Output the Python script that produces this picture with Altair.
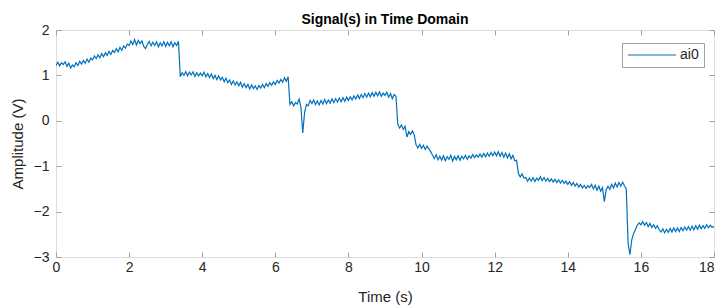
import altair as alt
import pandas as pd

# Sampled signal (V), one list per second, 0.05 s apart
sec00 = [1.22, 1.29, 1.21, 1.28, 1.24, 1.30, 1.20, 1.27, 1.16, 1.23, 1.19, 1.28, 1.22, 1.31, 1.25, 1.33, 1.27, 1.36, 1.29, 1.38]
sec01 = [1.34, 1.43, 1.37, 1.45, 1.39, 1.48, 1.41, 1.50, 1.44, 1.53, 1.46, 1.55, 1.50, 1.59, 1.52, 1.62, 1.55, 1.65, 1.60, 1.69]
sec02 = [1.66, 1.76, 1.68, 1.79, 1.67, 1.77, 1.70, 1.76, 1.64, 1.59, 1.68, 1.75, 1.65, 1.73, 1.66, 1.74, 1.63, 1.72, 1.65, 1.74]
sec03 = [1.64, 1.73, 1.65, 1.74, 1.63, 1.72, 1.66, 1.75, 0.97, 1.06, 1.00, 1.08, 0.99, 1.07, 1.01, 1.08, 0.98, 1.06, 0.99, 1.05]
sec04 = [0.99, 1.07, 0.97, 1.04, 0.95, 1.03, 0.93, 1.00, 0.91, 0.99, 0.90, 0.96, 0.86, 0.94, 0.84, 0.90, 0.80, 0.88, 0.79, 0.86]
sec05 = [0.77, 0.85, 0.74, 0.82, 0.73, 0.80, 0.70, 0.79, 0.71, 0.77, 0.69, 0.78, 0.72, 0.80, 0.73, 0.82, 0.76, 0.84, 0.78, 0.86]
sec06 = [0.80, 0.89, 0.83, 0.91, 0.85, 0.95, 0.87, 0.97, 0.36, 0.42, 0.33, 0.40, 0.37, 0.48, 0.30, -0.27, 0.18, 0.36, 0.33, 0.45]
sec07 = [0.38, 0.46, 0.36, 0.44, 0.35, 0.45, 0.37, 0.47, 0.38, 0.46, 0.39, 0.48, 0.40, 0.49, 0.41, 0.50, 0.42, 0.51, 0.43, 0.52]
sec08 = [0.45, 0.53, 0.46, 0.55, 0.48, 0.57, 0.49, 0.58, 0.51, 0.60, 0.52, 0.61, 0.53, 0.62, 0.54, 0.63, 0.55, 0.64, 0.54, 0.61]
sec09 = [0.56, 0.63, 0.52, 0.60, 0.49, 0.58, 0.54, -0.08, -0.16, -0.09, -0.19, -0.12, -0.36, -0.24, -0.30, -0.22, -0.31, -0.53, -0.60, -0.52]
sec10 = [-0.61, -0.54, -0.63, -0.56, -0.62, -0.68, -0.76, -0.83, -0.75, -0.86, -0.78, -0.87, -0.77, -0.88, -0.79, -0.85, -0.76, -0.89, -0.78, -0.86]
sec11 = [-0.77, -0.87, -0.78, -0.84, -0.76, -0.85, -0.77, -0.82, -0.74, -0.81, -0.75, -0.80, -0.73, -0.80, -0.72, -0.79, -0.71, -0.78, -0.70, -0.77]
sec12 = [-0.69, -0.77, -0.68, -0.78, -0.70, -0.80, -0.71, -0.82, -0.73, -0.84, -0.76, -0.88, -0.87, -1.16, -1.24, -1.17, -1.26, -1.25, -1.33, -1.26]
sec13 = [-1.33, -1.25, -1.34, -1.26, -1.31, -1.23, -1.32, -1.25, -1.33, -1.27, -1.34, -1.28, -1.35, -1.29, -1.36, -1.30, -1.37, -1.31, -1.38, -1.33]
sec14 = [-1.40, -1.34, -1.42, -1.36, -1.44, -1.38, -1.46, -1.40, -1.48, -1.42, -1.49, -1.43, -1.47, -1.40, -1.50, -1.42, -1.53, -1.44, -1.55, -1.47]
sec15 = [-1.78, -1.52, -1.44, -1.51, -1.40, -1.48, -1.37, -1.46, -1.36, -1.44, -1.35, -1.43, -1.50, -2.70, -2.95, -2.62, -2.48, -2.40, -2.30, -2.25]
sec16 = [-2.29, -2.22, -2.30, -2.24, -2.33, -2.26, -2.35, -2.29, -2.37, -2.31, -2.40, -2.45, -2.38, -2.47, -2.39, -2.46, -2.37, -2.45, -2.36, -2.44]
sec17 = [-2.36, -2.44, -2.35, -2.42, -2.34, -2.41, -2.33, -2.41, -2.32, -2.40, -2.31, -2.39, -2.30, -2.38, -2.31, -2.37, -2.29, -2.36, -2.30, -2.35]
last = [-2.32]

values = (sec00 + sec01 + sec02 + sec03 + sec04 + sec05 + sec06 + sec07 + sec08 +
          sec09 + sec10 + sec11 + sec12 + sec13 + sec14 + sec15 + sec16 + sec17 + last)
dt = 0.05
times = [round(i * dt, 3) for i in range(len(values))]
series_name = "ai0"

x_ticks = [0, 2, 4, 6, 8, 10, 12, 14, 16, 18]
y_ticks = [-3, -2, -1, 0, 1, 2]

df = pd.DataFrame({"t": times, "v": values, "series": series_name})

FONT = "Liberation Sans"
AXC = "#a0a0a0"
TXT = "#262626"

xs = alt.Scale(domain=[0, 18], nice=False, zero=False)
ys = alt.Scale(domain=[-3, 2], nice=False, zero=False)

base = alt.Chart(df)

x_label_align = {"condition": {"test": "datum.value >= 18", "value": "right"}, "value": "center"}

line = base.mark_line(strokeWidth=1.2, clip=True).encode(
    x=alt.X("t:Q", scale=xs, axis=alt.Axis(
        values=x_ticks, title="Time (s)", domain=False, offset=-5, tickSize=5,
        tickColor=AXC, labelPadding=3, labelFontSize=14, labelColor=TXT,
        labelFlush=False, labelOverlap=False, labelAlign=x_label_align,
        titleFontSize=15, titleFontWeight="normal", titleColor=TXT, titlePadding=15,
        labelFont=FONT, titleFont=FONT, grid=False)),
    y=alt.Y("v:Q", scale=ys, axis=alt.Axis(
        values=y_ticks, title="Amplitude (V)", domain=False, offset=-5, tickSize=5,
        tickColor=AXC, labelPadding=7, labelFontSize=14, labelColor=TXT,
        labelFlush=False, labelOverlap=False,
        titleFontSize=15, titleFontWeight="normal", titleColor=TXT, titlePadding=8,
        labelFont=FONT, titleFont=FONT, grid=False)),
    color=alt.Color("series:N", scale=alt.Scale(range=["#0072BD"]), legend=alt.Legend(
        title=None, orient="none", legendX=566, legendY=13, symbolType="M-1,0L7,0",
        symbolSize=144, symbolStrokeWidth=1, labelFontSize=14, labelFont=FONT,
        labelColor=TXT, strokeColor=AXC, fillColor="white", padding=5,
        labelOffset=39, cornerRadius=0)),
)

mirror = base.mark_line(opacity=0).encode(
    x=alt.X("t:Q", scale=xs, axis=alt.Axis(
        orient="top", values=x_ticks, labels=False, title=None, domain=False,
        offset=-5, tickSize=5, tickColor=AXC, grid=False)),
    y=alt.Y("v:Q", scale=ys, axis=alt.Axis(
        orient="right", values=y_ticks, labels=False, title=None, domain=False,
        offset=-5, tickSize=5, tickColor=AXC, grid=False)),
)

chart = alt.layer(line, mirror).resolve_axis(x="independent", y="independent").properties(
    width=658, height=227,
    title=alt.TitleParams("Signal(s) in Time Domain", fontSize=14, fontWeight="bold",
                          font=FONT, color="#000000", anchor="middle", offset=-4),
    autosize=alt.AutoSizeParams(type="none"),
    padding={"left": 48, "top": 22, "right": 1, "bottom": 50},
).configure_view(stroke=AXC, strokeWidth=1).configure(background="white")

chart.save("out.html", embed_options={"renderer": "svg", "actions": False})
